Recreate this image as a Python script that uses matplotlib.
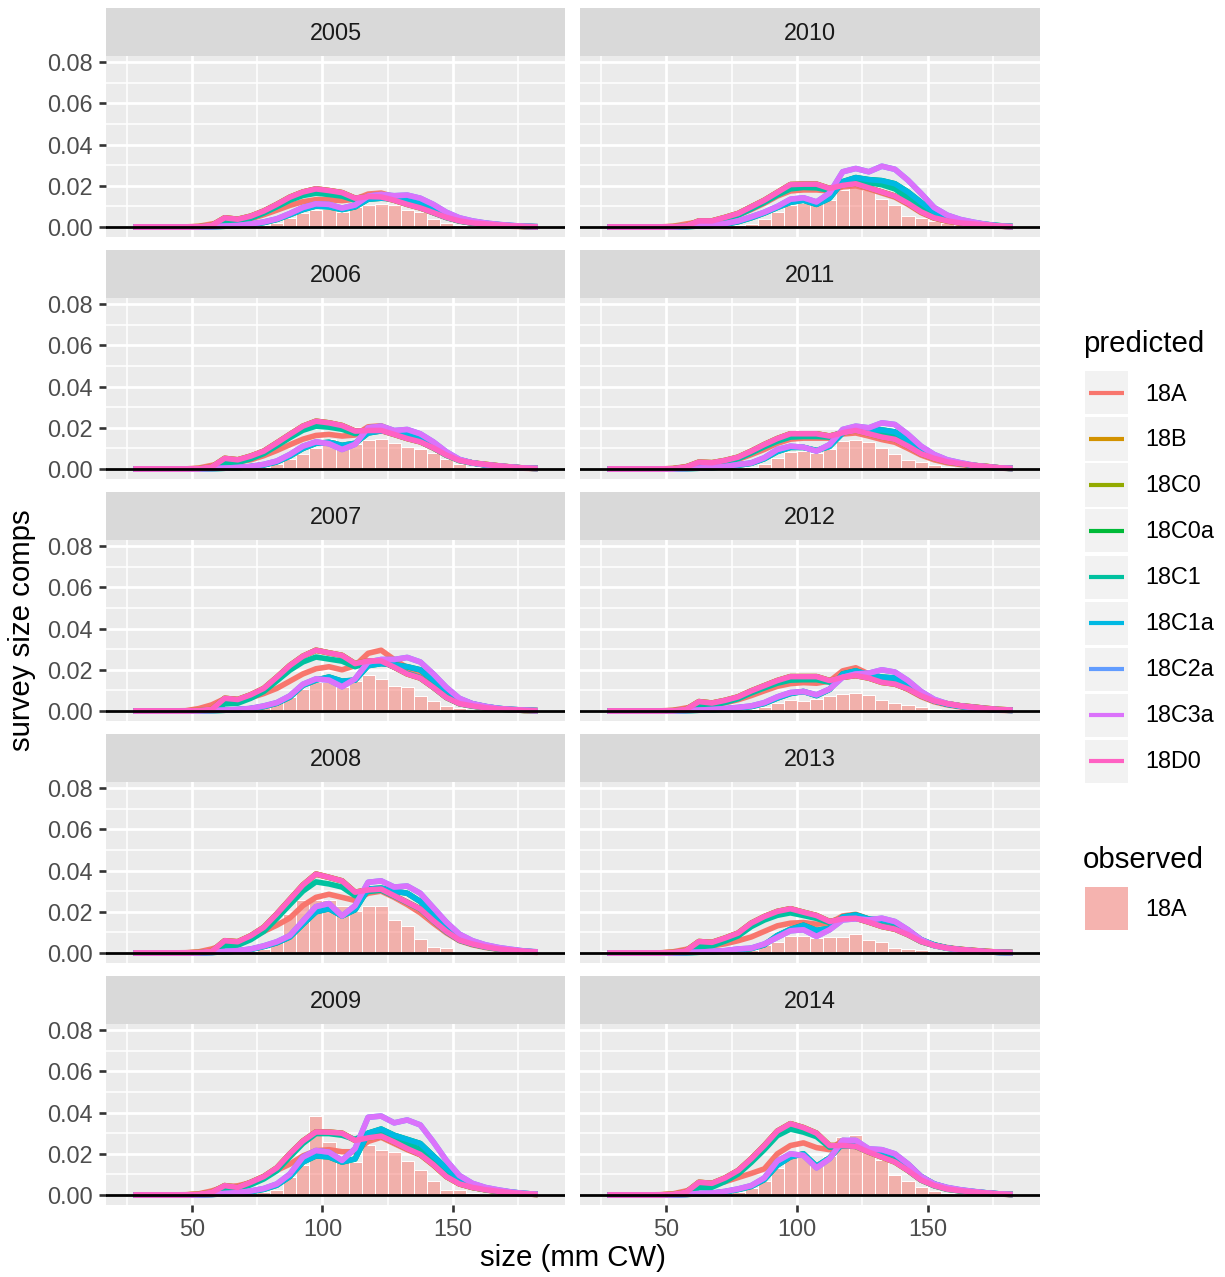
import matplotlib
matplotlib.use("Agg")
import matplotlib.pyplot as plt
from matplotlib.patches import Rectangle
from matplotlib.lines import Line2D

# ---------------- data (values in units of 1e-3) ----------------
sizes = [27.5, 32.5, 37.5, 42.5, 47.5, 52.5, 57.5, 62.5, 67.5, 72.5, 77.5,
         82.5, 87.5, 92.5, 97.5, 102.5, 107.5, 112.5, 117.5, 122.5, 127.5,
         132.5, 137.5, 142.5, 147.5, 152.5, 157.5, 162.5, 167.5, 172.5, 177.5, 182.5]
years = [2005, 2006, 2007, 2008, 2009, 2010, 2011, 2012, 2013, 2014]
models = ["18A", "18B", "18C0", "18C0a", "18C1", "18C1a", "18C2a", "18C3a", "18D0"]
model_colors = ["#F8766D", "#D39200", "#93AA00", "#00BA38", "#00C19F",
                "#00B9E3", "#619CFF", "#DB72FB", "#FF61C3"]
# which read-off profile each model follows (models overlap heavily in the chart)
model_profile = ["a", "hi", "hi", "mid", "hi2", "mid", "late", "late", "hi"]

obs_2005 = [0,0,0,0,0,0.1, 0.2,0.3,0.4,0.6,1.0, 1.8,4.2,6.6,8.5,8.9, 7.3,9.5,10.8,11.1,10.5, 8.5,7.3,4.0,2.0,1.0, 0.6,0.4,0.2,0.1,0,0]
a_2005 = [0.1,0.1,0.1,0.1,0.1,0.4, 1.5,2.5,3.0,4.0,6.0, 8.2,10.5,12.3,13.3,13.3, 12.8,13.5,16.0,16.5,14.7, 12.2,9.8,7.2,4.8,3.0, 2.0,1.3,0.8,0.4,0.2,0.1]
hi_2005 = [0.1,0.1,0.1,0.1,0.1,0.2, 0.8,4.5,3.8,5.3,7.8, 11.0,14.5,17.0,18.5,17.7, 16.7,14.0,14.8,14.6,13.0, 11.0,9.3,7.0,4.7,3.0, 2.0,1.5,1.0,0.6,0.3,0.1]
hi2_2005 = [0.1,0.1,0.1,0.1,0.1,0.1, 0.4,2.5,2.8,4.3,6.8, 9.8,13.0,15.3,16.4,15.8, 15.0,13.0,14.5,14.8,13.2, 11.2,9.5,7.0,4.6,2.9, 1.9,1.3,0.9,0.5,0.3,0.1]
mid_2005 = [0,0,0,0,0,0.1, 0.2,0.4,0.7,1.3,2.2, 3.7,6.0,8.5,10.2,9.8, 8.5,9.8,13.5,14.0,13.7, 13.5,12.2,9.5,6.5,4.0, 2.7,1.8,1.2,0.7,0.4,0.2]
late_2005 = [0,0,0,0,0,0.1, 0.2,0.5,0.8,1.5,2.5, 4.0,6.6,9.5,11.3,11.0, 9.2,10.7,15.0,15.8,15.2, 15.5,14.0,11.0,7.2,4.5, 3.0,2.0,1.3,0.8,0.4,0.2]

obs_2006 = [0,0,0,0,0,0.1, 0.2,0.3,0.4,0.6,1.0, 2.3,4.7,7.1,10.3,14.8, 12.0,12.0,14.3,14.8,12.7, 10.6,9.5,7.9,4.7,2.3, 1.0,0.5,0.3,0.1,0,0]
a_2006 = [0.1,0.1,0.1,0.1,0.1,0.5, 1.8,2.8,3.5,4.5,6.5, 9.0,11.8,14.5,16.3,16.8, 16.0,16.5,20.5,21.0,18.5, 15.8,13.5,10.2,6.8,4.3, 3.0,2.0,1.3,0.8,0.4,0.2]
hi_2006 = [0.1,0.1,0.1,0.1,0.1,0.2, 1.0,5.2,4.5,6.3,8.7, 12.7,16.8,20.8,23.2,22.4, 21.1,18.4,18.7,18.7,16.8, 14.8,13.2,10.3,6.8,4.2, 3.0,2.3,1.6,1.0,0.5,0.3]
hi2_2006 = [0.1,0.1,0.1,0.1,0.1,0.1, 0.5,3.0,3.2,5.0,7.5, 11.3,15.2,18.8,20.8,20.3, 19.3,17.2,18.5,18.8,17.0, 15.0,13.4,10.3,6.7,4.1, 2.9,2.1,1.5,0.9,0.5,0.3]
mid_2006 = [0,0,0,0,0,0.1, 0.2,0.4,0.7,1.2,2.0, 3.5,6.3,10.0,12.5,13.0, 11.5,12.5,17.5,18.5,18.0, 17.2,15.5,12.0,7.8,4.5, 3.0,2.0,1.4,0.9,0.5,0.3]
late_2006 = [0,0,0,0,0,0.1, 0.3,0.5,0.8,1.3,2.3, 3.9,7.1,11.1,13.2,12.3, 9.5,12.0,20.0,20.8,18.7, 19.2,17.1,13.2,8.4,4.7, 3.0,2.1,1.5,1.0,0.5,0.3]

obs_2007 = [0,0,0,0,0,0.1, 0.2,0.3,0.4,0.8,2.5, 4.6,6.9,10.7,14.0,14.0, 11.5,14.4,17.7,15.6,12.3, 11.8,7.4,4.9,2.5,1.3, 0.6,0.3,0.2,0.1,0,0]
a_2007 = [0.1,0.1,0.1,0.1,0.2,1.2, 3.0,6.0,5.5,6.5,8.5, 11.0,14.5,18.0,20.5,21.5, 20.0,22.0,28.0,29.5,25.0, 21.0,18.0,12.5,7.5,4.2, 2.8,1.8,1.2,0.7,0.4,0.2]
hi_2007 = [0.1,0.1,0.1,0.1,0.1,0.3, 0.8,6.2,5.6,7.9,11.0, 16.4,22.1,26.6,29.5,28.2, 27.0,23.0,24.3,24.3,21.3, 18.0,16.0,11.5,6.6,3.6, 2.5,1.6,1.0,0.7,0.3,0.2]
hi2_2007 = [0.1,0.1,0.1,0.1,0.1,0.1, 0.5,3.5,3.8,6.2,9.5, 14.6,19.8,23.8,26.2,25.2, 24.2,21.5,23.6,24.0,21.4, 18.3,16.2,11.6,6.6,3.6, 2.4,1.6,1.0,0.6,0.3,0.2]
mid_2007 = [0,0,0,0,0,0.1, 0.2,0.4,0.7,1.2,2.2, 3.8,6.8,12.5,15.0,16.5, 14.5,15.0,22.0,23.0,22.5, 21.5,20.0,15.0,10.0,5.8, 3.5,2.2,1.3,0.8,0.5,0.2]
late_2007 = [0,0,0,0,0,0.1, 0.3,0.5,0.8,1.3,2.5, 4.1,7.4,13.0,15.6,15.0, 11.8,15.6,23.8,25.0,25.0, 26.0,23.8,18.0,11.5,6.2, 3.6,2.3,1.3,0.8,0.5,0.2]

obs_2008 = [0,0,0,0,0,0.1, 0.2,0.3,0.5,1.0,2.0, 5.2,19.0,25.7,25.7,25.7, 23.0,20.5,23.0,23.0,16.2, 13.3,6.8,3.1,2.4,0.5, 0.3,0.2,0.1,0,0,0]
a_2008 = [0.1,0.1,0.1,0.1,0.2,0.6, 2.0,4.0,5.0,7.5,10.5, 13.5,17.0,23.0,27.0,28.5, 27.0,25.5,29.0,30.0,27.0, 23.5,19.5,14.5,9.8,6.0, 4.0,2.7,1.8,1.1,0.6,0.3]
hi_2008 = [0.1,0.1,0.1,0.1,0.1,0.3, 0.8,6.0,5.5,8.4,12.5, 19.0,26.0,33.0,38.3,36.7, 35.0,29.5,30.6,31.0,27.8, 24.6,21.4,15.7,10.5,6.3, 4.4,3.0,2.0,1.4,0.8,0.5]
hi2_2008 = [0.1,0.1,0.1,0.1,0.1,0.1, 0.5,3.5,3.8,6.5,10.5, 16.8,23.5,30.0,34.5,33.5, 32.0,27.8,29.8,30.5,27.6, 24.5,21.3,15.6,10.3,6.2, 4.3,2.9,1.9,1.3,0.8,0.5]
mid_2008 = [0,0,0,0,0,0.1, 0.3,0.6,1.0,1.8,3.2, 5.0,7.8,14.0,20.0,21.5, 18.0,21.0,31.0,31.5,30.0, 29.0,25.0,19.0,13.0,8.0, 5.2,3.4,2.3,1.5,0.9,0.5]
late_2008 = [0,0,0,0,0,0.1, 0.3,0.8,1.2,2.0,3.5, 5.5,8.5,15.5,22.5,24.0, 18.0,23.0,34.3,35.0,32.0, 32.5,29.0,22.0,15.0,9.2, 6.0,4.0,2.7,1.8,1.0,0.6]

obs_2009 = [0,0,0,0,0,0.1, 0.2,0.3,0.5,0.8,1.3, 2.4,9.0,14.8,38.3,25.8, 16.0,16.0,24.2,22.0,21.0, 16.5,12.0,7.0,2.6,2.6, 0.8,0.4,0.2,0.1,0,0]
a_2009 = [0.1,0.1,0.1,0.1,0.2,0.6, 2.0,4.0,4.5,6.0,9.0, 12.0,15.0,19.0,21.5,22.0, 21.0,21.0,26.0,28.0,25.0, 22.0,19.5,14.5,9.0,5.5, 3.7,2.5,1.6,1.0,0.5,0.3]
hi_2009 = [0.1,0.1,0.1,0.1,0.1,0.4, 1.3,4.6,3.7,6.2,9.0, 13.2,20.0,26.2,30.6,30.5, 30.0,26.5,27.7,28.6,25.7, 22.5,19.7,14.8,9.0,5.4, 3.7,2.6,1.8,1.1,0.6,0.3]
hi2_2009 = [0.1,0.1,0.1,0.1,0.1,0.1, 0.6,2.8,2.8,5.0,7.8, 11.8,18.5,25.0,29.8,29.8, 29.0,27.0,30.0,31.0,28.0, 25.0,22.0,16.5,10.0,5.8, 3.8,2.6,1.8,1.1,0.6,0.3]
mid_2009 = [0,0,0,0,0,0.1, 0.3,0.6,1.0,1.7,2.8, 4.8,9.0,16.0,19.0,18.5, 16.0,17.5,30.0,32.0,29.0, 27.0,25.0,19.0,13.0,8.0, 5.0,3.3,2.2,1.4,0.8,0.4]
late_2009 = [0,0,0,0,0,0.1, 0.3,0.8,1.2,2.0,3.2, 5.4,10.2,18.4,21.6,20.8, 16.8,22.5,37.7,38.3,35.0, 36.4,34.0,25.8,16.8,9.5, 5.7,3.7,2.5,1.5,0.8,0.4]

obs_2010 = [0,0,0,0,0,0.1, 0.2,0.3,0.4,0.6,1.0, 1.5,4.0,7.4,10.6,11.8, 11.0,13.0,18.2,19.2,18.0, 13.7,10.6,5.3,4.2,3.0, 2.0,1.2,0.7,0.4,0.1,0]
a_2010 = [0.1,0.1,0.1,0.1,0.1,0.4, 1.5,2.5,3.0,4.0,5.8, 8.5,11.5,15.0,17.5,18.0, 18.0,17.5,19.5,20.0,18.5, 16.5,14.5,11.0,7.0,4.3, 2.8,1.9,1.3,0.8,0.4,0.2]
hi_2010 = [0.1,0.1,0.1,0.1,0.1,0.2, 0.5,3.0,3.0,4.7,6.6, 9.8,13.0,16.8,20.6,20.8, 20.8,18.7,20.2,21.0,19.0, 17.0,15.0,11.5,7.4,4.5, 3.0,2.0,1.5,1.0,0.5,0.2]
hi2_2010 = [0.1,0.1,0.1,0.1,0.1,0.1, 0.3,1.8,2.2,3.8,5.8, 8.8,12.0,15.5,18.5,19.2, 19.0,17.8,21.0,23.0,21.5, 20.5,18.5,14.0,9.0,5.4, 3.4,2.2,1.5,1.0,0.5,0.2]
mid_2010 = [0,0,0,0,0,0.1, 0.2,0.5,0.8,1.4,2.6, 4.5,6.8,9.5,12.0,13.0, 11.0,14.0,22.0,24.0,23.0, 22.5,21.0,17.0,12.0,7.5, 4.8,3.2,2.1,1.3,0.7,0.3]
late_2010 = [0,0,0,0,0,0.1, 0.3,0.7,1.0,1.7,3.0, 5.0,7.2,10.0,13.5,14.2, 12.2,16.5,26.8,28.4,26.8, 29.5,28.0,22.7,16.3,9.5, 5.8,3.7,2.4,1.3,0.5,0.2]

obs_2011 = [0,0,0,0,0,0.1, 0.2,0.2,0.3,0.5,0.7, 1.0,2.3,5.2,8.4,8.7, 7.9,9.5,13.5,13.9,13.2, 10.3,7.1,4.4,3.5,1.9, 1.0,0.5,0.3,0.1,0,0]
a_2011 = [0.1,0.1,0.1,0.1,0.1,0.3, 1.2,2.0,2.5,3.3,4.7, 7.0,9.5,12.5,14.5,15.0, 15.0,15.0,17.0,17.5,16.0, 14.3,13.0,10.0,6.8,4.5, 3.0,2.2,1.5,1.0,0.5,0.2]
hi_2011 = [0.1,0.1,0.1,0.1,0.1,0.2, 1.0,3.4,3.1,4.2,5.8, 8.7,11.9,14.8,17.1,17.1, 17.1,16.0,17.6,18.7,17.1, 15.5,14.4,11.1,7.4,5.2, 3.5,2.6,1.8,1.3,0.6,0.3]
hi2_2011 = [0.1,0.1,0.1,0.1,0.1,0.1, 0.5,2.2,2.3,3.4,5.0, 7.8,10.8,13.5,15.5,15.8, 15.8,15.5,18.0,19.5,18.5, 17.5,16.5,12.8,8.5,5.6, 3.7,2.7,1.8,1.2,0.6,0.3]
mid_2011 = [0,0,0,0,0,0.1, 0.2,0.4,0.7,1.1,1.9, 2.8,5.0,8.5,10.5,10.5, 9.0,11.0,17.5,19.5,19.0, 19.0,18.0,14.0,9.5,6.0, 4.0,2.8,1.7,1.0,0.5,0.3]
late_2011 = [0,0,0,0,0,0.1, 0.3,0.5,0.8,1.3,2.2, 3.0,5.5,9.5,11.1,10.6, 8.7,11.9,19.2,20.8,20.0, 22.4,21.6,16.8,11.1,7.1, 4.5,3.1,1.9,1.1,0.6,0.3]

obs_2012 = [0,0,0,0,0,0.1, 0.1,0.2,0.3,0.4,0.6, 0.8,2.0,4.1,5.2,4.9, 5.7,7.4,8.5,9.0,7.9, 5.2,3.9,3.0,2.0,1.0, 0.6,0.3,0.2,0.1,0,0]
a_2012 = [0.1,0.1,0.1,0.1,0.1,0.4, 1.5,2.5,3.0,4.0,5.5, 7.5,9.8,12.0,13.3,13.8, 13.5,14.5,19.5,21.0,18.0, 15.5,13.5,10.5,7.0,4.5, 3.0,2.0,1.3,0.8,0.4,0.2]
hi_2012 = [0.1,0.1,0.1,0.1,0.1,0.2, 0.8,4.6,3.9,5.2,6.9, 9.8,12.3,14.8,16.7,16.7, 16.7,14.8,16.4,17.2,16.0, 13.9,13.1,10.7,7.4,4.9, 3.6,2.6,2.0,1.3,0.8,0.5]
hi2_2012 = [0.1,0.1,0.1,0.1,0.1,0.1, 0.4,2.8,2.8,4.2,6.0, 8.8,11.2,13.5,15.0,15.2, 15.2,14.0,16.5,17.8,16.5, 14.5,13.5,11.0,7.5,4.9, 3.5,2.5,1.9,1.2,0.7,0.4]
mid_2012 = [0,0,0,0,0,0.1, 0.2,0.4,0.6,1.0,1.6, 2.2,3.7,6.3,8.5,9.5, 7.5,10.5,18.0,19.5,17.5, 16.5,16.0,12.0,8.0,5.0, 3.3,2.3,1.5,0.9,0.5,0.3]
late_2012 = [0,0,0,0,0,0.1, 0.3,0.5,0.8,1.2,1.8, 2.5,4.1,6.9,9.0,9.5, 7.9,10.7,16.4,18.0,18.4, 20.0,18.9,14.8,9.5,5.7, 3.6,2.5,1.6,1.0,0.6,0.3]

obs_2013 = [1.0,0,0,0,0,0.1, 0.1,0.2,0.3,0.5,0.8, 1.6,3.7,5.6,8.5,8.5, 7.3,7.6,7.6,9.2,6.3, 5.2,2.4,1.8,1.3,0.6, 0.3,0.2,0.1,0,0,0]
a_2013 = [0.1,0.1,0.1,0.1,0.1,0.6, 1.8,3.0,3.5,4.5,6.0, 7.8,10.5,13.2,14.5,14.8, 14.0,14.5,18.0,18.8,16.5, 14.0,12.2,9.4,6.0,3.9, 2.7,1.8,1.2,0.8,0.4,0.2]
hi_2013 = [0.1,0.1,0.1,0.1,0.1,0.3, 1.1,5.6,5.2,7.3,9.7, 14.5,17.7,20.2,21.5,19.8, 18.2,15.3,16.6,16.9,15.0, 12.9,11.6,8.9,5.6,3.7, 2.4,1.8,1.3,0.8,0.5,0.3]
hi2_2013 = [0.1,0.1,0.1,0.1,0.1,0.1, 0.6,3.2,3.5,5.8,8.3, 12.8,16.0,18.3,19.5,18.2, 16.8,14.8,16.5,17.0,15.2, 13.2,11.9,9.0,5.6,3.6, 2.3,1.7,1.2,0.7,0.4,0.2]
mid_2013 = [0,0,0,0,0,0.1, 0.2,0.4,0.6,1.0,1.7, 2.2,4.0,8.5,11.5,13.5, 11.0,12.0,17.5,18.5,16.5, 16.0,14.8,11.0,6.5,4.0, 2.5,1.7,1.1,0.6,0.3,0.2]
late_2013 = [0,0,0,0,0,0.1, 0.3,0.5,0.8,1.2,2.0, 2.4,4.4,7.6,10.8,11.3, 8.1,11.3,16.1,16.6,16.1, 16.9,15.3,11.3,6.5,3.7, 2.4,1.6,1.1,0.6,0.3,0.2]

obs_2014 = [0,0,0,0,0,0.1, 0.2,0.3,0.5,0.8,1.5, 3.4,7.0,13.0,18.4,19.0, 16.0,19.0,28.0,29.0,21.0, 17.0,9.5,6.8,4.0,2.0, 1.0,0.5,0.2,0.1,0,0]
a_2014 = [0.1,0.1,0.1,0.1,0.2,0.6, 2.0,4.0,5.0,6.5,8.5, 10.5,12.7,20.0,24.0,25.3, 23.0,22.0,26.5,26.0,22.0, 19.0,17.0,12.5,7.8,4.9, 3.2,2.2,1.5,1.0,0.5,0.3]
hi_2014 = [0.1,0.1,0.1,0.1,0.1,0.4, 1.3,6.2,5.7,8.3,11.9, 17.6,24.0,31.0,34.6,32.7, 30.0,24.0,24.0,23.6,20.8, 18.4,16.0,11.9,7.3,4.6, 2.9,2.1,1.5,1.0,0.5,0.3]
hi2_2014 = [0.1,0.1,0.1,0.1,0.1,0.1, 0.6,3.6,3.8,6.6,10.2, 15.8,22.0,28.8,32.0,30.5, 28.3,23.2,23.8,23.6,21.0, 18.8,16.4,12.0,7.3,4.5, 2.8,2.0,1.4,0.9,0.5,0.3]
mid_2014 = [0,0,0,0,0,0.1, 0.3,0.6,0.9,1.6,2.7, 4.2,7.5,14.5,18.5,20.0, 14.0,18.0,25.0,25.0,22.0, 21.0,19.5,14.8,9.0,5.4, 3.5,2.4,1.7,1.1,0.6,0.3]
late_2014 = [0,0,0,0,0,0.1, 0.3,0.8,1.0,1.8,3.0, 4.6,8.3,16.5,20.0,19.2, 13.2,17.6,26.5,26.5,22.4, 22.0,20.0,15.1,9.0,5.4, 3.7,2.6,1.8,1.1,0.6,0.3]

UNIT = 1e-3
g = globals()
obs = {y: [v * UNIT for v in g[f"obs_{y}"]] for y in years}
pred = {y: {p: [v * UNIT for v in g[f"{p}_{y}"]] for p in ("a", "hi", "hi2", "mid", "late")}
        for y in years}

# ---------------- layout ----------------
W, H, DPI = 1225, 1277, 100
plt.rcParams['font.family'] = ['Liberation Sans', 'DejaVu Sans']
fig = plt.figure(figsize=(W / DPI, H / DPI), dpi=DPI)
fig.patch.set_facecolor('white')

SMALL = 16.8
LARGE = 21.2
col_x = [(106, 565), (580, 1040)]
obs_fill = (248 / 255, 118 / 255, 109 / 255, 0.5)

for i, yr in enumerate(years):
    col, row = divmod(i, 5)
    x0, x1 = col_x[col]
    s_top = 8 + row * 242
    s_bot = 56 + row * 242
    p_bot = 237 + row * 242

    sax = fig.add_axes([x0 / W, 1 - s_bot / H, (x1 - x0) / W, (s_bot - s_top) / H])
    sax.set_facecolor('#D9D9D9')
    sax.set_xticks([]); sax.set_yticks([])
    for sp in sax.spines.values():
        sp.set_visible(False)
    sax.text(0.5, 0.47, str(yr), ha='center', va='center', fontsize=SMALL,
             color='#1A1A1A', transform=sax.transAxes)

    ax = fig.add_axes([x0 / W, 1 - p_bot / H, (x1 - x0) / W, (p_bot - s_bot) / H])
    ax.set_facecolor('#EBEBEB')
    for sp in ax.spines.values():
        sp.set_visible(False)
    ax.set_xlim(17, 193)
    ax.set_ylim(-0.0048, 0.0829)
    ax.set_xticks([50, 100, 150])
    ax.set_xticks([25, 75, 125, 175], minor=True)
    ax.set_yticks([0, 0.02, 0.04, 0.06, 0.08])
    ax.set_yticks([0.01, 0.03, 0.05, 0.07], minor=True)
    ax.grid(which='major', color='white', linewidth=2.0)
    ax.grid(which='minor', color='white', linewidth=1.1)
    ax.set_axisbelow(True)
    ax.tick_params(which='minor', length=0)
    ax.tick_params(which='major', length=5.3, width=1.9, color='#333333',
                   labelsize=SMALL, labelcolor='#4D4D4D', pad=4.0)
    ax.set_yticklabels(['0.00', '0.02', '0.04', '0.06', '0.08'])
    if col == 1:
        ax.tick_params(axis='y', which='major', length=0, labelleft=False)
    if row != 4:
        ax.tick_params(axis='x', which='major', length=0, labelbottom=False)

    ax.bar(sizes, obs[yr], width=5, facecolor=obs_fill, edgecolor='white',
           linewidth=0.7, zorder=2)
    for m, c, p in zip(models, model_colors, model_profile):
        ax.plot(sizes, pred[yr][p], color=c, linewidth=4.0,
                solid_joinstyle='round', solid_capstyle='butt', zorder=3)
    ax.axhline(0, color='black', linewidth=2.0, zorder=4)

# axis titles
fig.text(573 / W, 1 - 1258 / H, 'size (mm CW)', ha='center', va='center', fontsize=LARGE)
fig.text(22 / W, 1 - 630 / H, 'survey size comps', ha='center', va='center',
         rotation=90, fontsize=LARGE)

# legend: predicted
fig.text(1083 / W, 1 - 344 / H, 'predicted', ha='left', va='center', fontsize=LARGE)
for k, (m, c) in enumerate(zip(models, model_colors)):
    yc = 393 + 46 * k
    fig.add_artist(Rectangle((1085 / W, 1 - (yc + 21.5) / H), 43 / W, 43 / H,
                             transform=fig.transFigure, facecolor='#F2F2F2',
                             edgecolor='none'))
    fig.add_artist(Line2D([1089 / W, 1124 / W], [1 - yc / H, 1 - yc / H],
                          transform=fig.transFigure, color=c, linewidth=3.0,
                          solid_capstyle='butt'))
    fig.text(1145 / W, 1 - (yc + 1) / H, m, ha='left', va='center', fontsize=SMALL)

# legend: observed
fig.text(1083 / W, 1 - 860 / H, 'observed', ha='left', va='center', fontsize=LARGE)
yc = 908
fig.add_artist(Rectangle((1085 / W, 1 - (yc + 21.5) / H), 43 / W, 43 / H,
                         transform=fig.transFigure, facecolor='#F2F2F2',
                         edgecolor='none'))
fig.add_artist(Rectangle((1085 / W, 1 - (yc + 21.5) / H), 43 / W, 43 / H,
                         transform=fig.transFigure, facecolor=obs_fill,
                         edgecolor='none'))
fig.text(1145 / W, 1 - (yc + 1) / H, '18A', ha='left', va='center', fontsize=SMALL)

fig.savefig('out.png', dpi=DPI)
